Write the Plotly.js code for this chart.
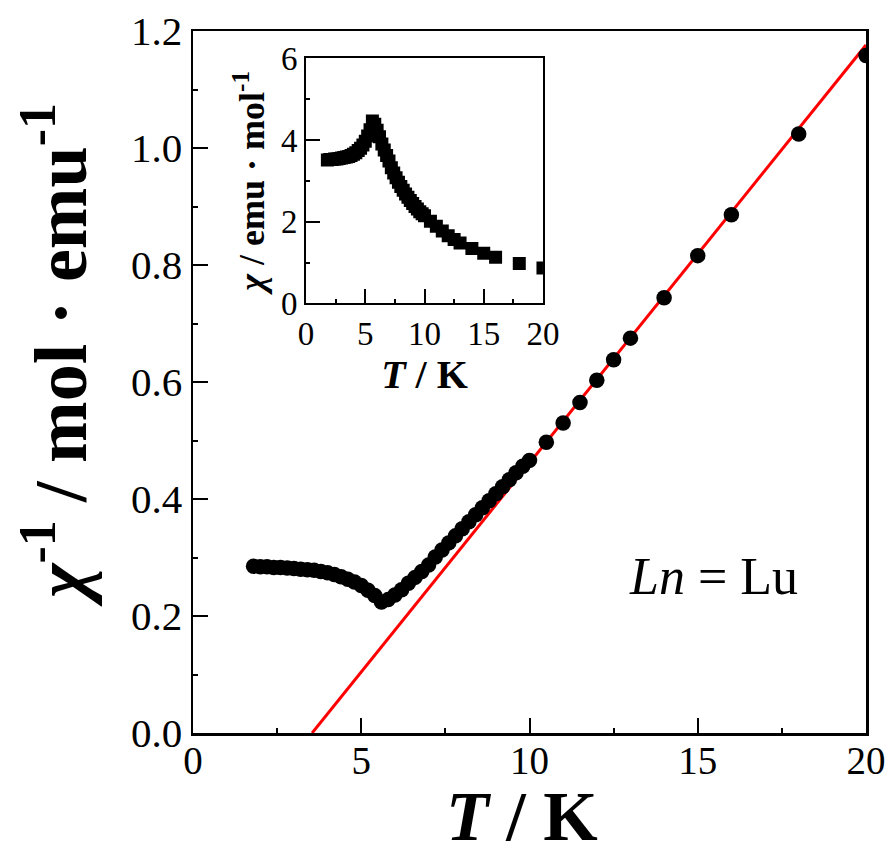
<!DOCTYPE html>
<html>
<head>
<meta charset="utf-8">
<script src="https://cdn.plot.ly/plotly-3.0.1.min.js"></script>
<style>html,body{margin:0;padding:0;background:#fff;}#chart{width:889px;height:857px;}</style>
</head>
<body>
<div id="chart"></div>
<script>
// Main panel: chi^-1 vs T
const temps = [1.8,2.0,2.2,2.4,2.6,2.8,3.0,3.2,3.4,3.6,3.8,4.0,4.2,4.4,4.6,4.8,5.0,5.2,5.4,5.6,
  5.8,6.0,6.2,6.4,6.6,6.8,7.0,7.2,7.4,7.6,7.8,8.0,8.2,8.4,8.6,8.8,9.0,9.2,9.4,9.6,9.8,10.0,
  10.5,11,11.5,12,12.5,13,14,15,16,18,20];
const chiInv = [0.285,0.284,0.284,0.283,0.283,0.282,0.281,0.280,0.279,0.278,0.276,0.274,0.271,0.267,0.263,0.258,0.252,0.244,0.235,0.224,
  0.228,0.236,0.245,0.256,0.266,0.276,0.287,0.301,0.313,0.325,0.337,0.349,0.361,0.373,0.385,0.397,0.409,0.421,0.433,0.445,0.456,0.466,
  0.497,0.530,0.565,0.603,0.638,0.675,0.744,0.816,0.886,1.024,1.158];
// Inset: chi vs T
const chi = [3.509,3.521,3.521,3.534,3.534,3.546,3.559,3.571,3.584,3.597,3.623,3.650,3.690,3.745,3.802,3.876,3.968,4.098,4.255,4.464,
  4.386,4.237,4.082,3.906,3.759,3.623,3.484,3.322,3.195,3.077,2.967,2.865,2.770,2.681,2.597,2.519,2.445,2.375,2.309,2.247,2.193,2.146,
  2.012,1.887,1.770,1.658,1.567,1.481,1.344,1.225,1.129,0.977,0.864];
// Curie-Weiss fit line
const fitT = [3.54, 20];
const fitY = [0, 1.176];

const FONT = 'Liberation Serif';
const traces = [
  {x: fitT, y: fitY, mode: 'lines', line: {color: '#ff0000', width: 3}, xaxis: 'x', yaxis: 'y', hoverinfo: 'skip'},
  {x: temps, y: chiInv, mode: 'markers', marker: {symbol: 'circle', size: 15.5, color: '#000'}, xaxis: 'x', yaxis: 'y'},
  {x: temps, y: chi, mode: 'markers', marker: {symbol: 'square', size: 13, color: '#000'}, xaxis: 'x2', yaxis: 'y2'}
];

const base = {showgrid: false, zeroline: false, showline: true, linecolor: '#000', tickcolor: '#000', ticks: 'inside'};
const layout = {
  width: 889, height: 857,
  margin: {l: 193, r: 23, t: 31, b: 124},
  paper_bgcolor: '#fff', plot_bgcolor: '#fff',
  showlegend: false,
  font: {family: FONT, color: '#000'},
  xaxis: Object.assign({}, base, {
    domain: [0, 1], range: [0, 20], dtick: 5, tick0: 0, ticklen: 15, tickwidth: 2, linewidth: 2.5, mirror: true,
    minor: {ticks: 'inside', dtick: 2.5, ticklen: 5, tickwidth: 2, tickcolor: '#000'},
    ticklabelstandoff: -8,
    tickfont: {size: 39, family: FONT}
  }),
  yaxis: Object.assign({}, base, {
    domain: [0, 1], range: [0, 1.2], dtick: 0.2, tick0: 0, tickformat: '.1f', ticklen: 15, tickwidth: 2, linewidth: 2.5, mirror: true,
    minor: {ticks: 'inside', dtick: 0.1, ticklen: 5, tickwidth: 2, tickcolor: '#000'},
    tickfont: {size: 41, family: FONT}
  }),
  xaxis3: Object.assign({}, base, {
    overlaying: 'x', side: 'top', anchor: 'y', range: [0, 20], dtick: 2.5, tick0: 0, ticklen: 5, tickwidth: 2,
    showticklabels: false, showline: false
  }),
  yaxis3: Object.assign({}, base, {
    overlaying: 'y', side: 'right', anchor: 'x', range: [0, 1.2], dtick: 0.1, tick0: 0, ticklen: 5, tickwidth: 2,
    showticklabels: false, showline: false
  }),
  xaxis2: Object.assign({}, base, {
    domain: [0.168, 0.52], anchor: 'y2', range: [0, 20], dtick: 5, tick0: 0, ticklen: 14, tickwidth: 2, linewidth: 2, mirror: true,
    minor: {ticks: 'inside', dtick: 2.5, ticklen: 4, tickwidth: 2, tickcolor: '#000'},
    tickfont: {size: 33, family: FONT},
    title: {text: '<b><i>T</i> / K</b>', font: {size: 40, family: FONT}, standoff: 0}
  }),
  yaxis2: Object.assign({}, base, {
    domain: [0.612, 0.961], anchor: 'x2', range: [0, 6], dtick: 2, tick0: 0, ticklen: 14, tickwidth: 2, linewidth: 2, mirror: true,
    minor: {ticks: 'inside', dtick: 1, ticklen: 4, tickwidth: 2, tickcolor: '#000'},
    tickfont: {size: 33, family: FONT},
    title: {text: '<b><i>χ</i> / emu · mol<sup>-1</sup></b>', font: {size: 36, family: FONT}, standoff: 5}
  }),
  xaxis4: Object.assign({}, base, {
    overlaying: 'x2', side: 'top', anchor: 'y2', range: [0, 20], dtick: 2.5, tick0: 0, ticklen: 4, tickwidth: 2,
    showticklabels: false, showline: false
  }),
  yaxis4: Object.assign({}, base, {
    overlaying: 'y2', side: 'right', anchor: 'x2', range: [0, 6], dtick: 1, tick0: 0, ticklen: 4, tickwidth: 2,
    showticklabels: false, showline: false
  }),
  annotations: [
    {xref: 'paper', yref: 'paper', x: (522 - 193) / 673, y: (733 - 857) / 702, text: '<b><i>T</i> / K</b>', showarrow: false,
     font: {size: 70, family: FONT, color: '#000'}, xanchor: 'center', yanchor: 'bottom'},
    {xref: 'paper', yref: 'paper', x: (55 - 193) / 673, y: (733 - 355) / 702, text: '<b><i>χ</i><sup>-1</sup> / mol · emu<sup>-1</sup></b>',
     showarrow: false, textangle: -90, font: {size: 74, family: FONT, color: '#000'}, xanchor: 'center', yanchor: 'middle'},
    {xref: 'x', yref: 'y', x: 18.05, y: 0.268, text: '<i>Ln</i> = Lu', showarrow: false,
     font: {size: 52, family: FONT, color: '#000'}, xanchor: 'right', yanchor: 'middle'}
  ]
};
Plotly.newPlot('chart', traces, layout, {staticPlot: true, displayModeBar: false});
</script>
</body>
</html>
